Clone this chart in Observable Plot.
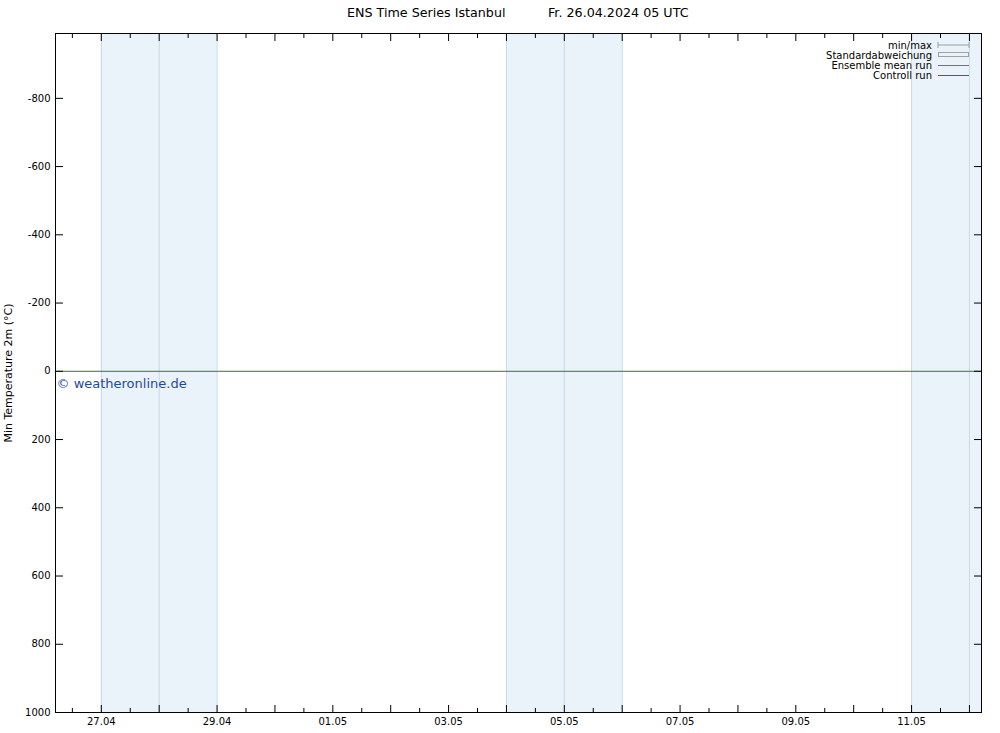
<!DOCTYPE html>
<html>
<head>
<meta charset="utf-8">
<script src="https://cdn.jsdelivr.net/npm/d3@7"></script>
<script src="https://cdn.jsdelivr.net/npm/@observablehq/plot@0.6"></script>
<style>
  html, body { margin: 0; padding: 0; background: #fff; }
  #wrap { position: relative; width: 1000px; height: 733px; font-family: "DejaVu Sans", sans-serif; }
  #title { position: absolute; top: 5px; left: 0; width: 1000px; font-size: 12.7px; color: #000; white-space: pre; }
  #title span { position: absolute; }
  #legend { position: absolute; left: 0; top: 0; }
</style>
</head>
<body>
<div id="wrap">
  <div id="chart"></div>
  <div id="title"><span id="tl" style="left:347px"></span><span id="tr" style="left:548px"></span></div>
</div>
<script>
// ---- data ----
const titleLeft = "ENS Time Series Istanbul";
const titleRight = "Fr. 26.04.2024 05 UTC";
const yLabel = "Min Temperature 2m (°C)";
const xDomain = ["2024-04-26T05:00Z", "2024-05-12T05:00Z"];
const yDomain = [-990, 1000];
const yTicks = [-800, -600, -400, -200, 0, 200, 400, 600, 800, 1000];
const xTickLabels = ["27.04", "29.04", "01.05", "03.05", "05.05", "07.05", "09.05", "11.05"];
const weekendStart = ["2024-04-27", "2024-05-04", "2024-05-11"];
const weekendEnd = ["2024-04-29", "2024-05-06", "2024-05-13"];
const bandDividers = ["2024-04-27", "2024-04-28", "2024-04-29", "2024-05-04", "2024-05-05", "2024-05-06", "2024-05-11", "2024-05-12"];
const controlDates = ["2024-04-26T05:00Z", "2024-05-12T05:00Z"];
const controlValues = [0, 0];
const legendLabels = ["min/max", "Standardabweichung", "Ensemble mean run", "Controll run"];
const watermark = "© weatheronline.de";

document.getElementById("tl").textContent = titleLeft;
document.getElementById("tr").textContent = titleRight;

// ---- build ----
const parse = s => new Date(s.length <= 10 ? s + "T00:00Z" : s);
const labelDate = s => { const [d, m] = s.split(".").map(Number); return new Date(Date.UTC(2024, m - 1, d)); };
const x0 = parse(xDomain[0]), x1 = parse(xDomain[1]);
const bands = weekendStart.map((s, i) => ({ a: parse(s), b: parse(weekendEnd[i]) }));
const dividers = bandDividers.map(parse);
const control = controlDates.map((d, i) => ({ date: parse(d), value: controlValues[i] }));
const dayTicks = d3.utcDay.range(d3.utcDay.ceil(x0), x1);
const halfDayTicks = d3.utcHour.every(12).range(x0, x1).filter(d => d.getUTCHours() === 12);
const labelTicks = xTickLabels.map(labelDate);
const labelMap = new Map(labelTicks.map((d, i) => [+d, xTickLabels[i]]));

const chart = Plot.plot({
  width: 1000,
  height: 733,
  marginLeft: 55,
  marginRight: 19,
  marginTop: 33,
  marginBottom: 21,
  style: { fontFamily: "DejaVu Sans, sans-serif", fontSize: "10px", background: "#fff", color: "#000" },
  x: { type: "utc", domain: [x0, x1] },
  y: { domain: yDomain, reverse: true },
  marks: [
    Plot.rect(bands, { x1: "a", x2: "b", fill: "#eaf2fa", clip: true }),
    Plot.ruleX(dividers, { x: d => d, stroke: "#c6daea", strokeWidth: 1, clip: true }),
    Plot.line(control, { x: "date", y: "value", stroke: "#2f7d12", strokeWidth: 1 }),
    Plot.text([watermark], { x: () => x0, y: () => 0, text: d => d, dx: 1, dy: 13, textAnchor: "start", fill: "#1f48a6", fontSize: 13 }),
    // axes: labels
    Plot.axisX({ anchor: "bottom", ticks: labelTicks, tickSize: 0, tickPadding: 5, tickFormat: d => labelMap.get(+d), label: null }),
    Plot.axisY({ anchor: "left", ticks: yTicks, tickSize: 0, tickPadding: 5, tickFormat: d => String(d), label: null }),
    Plot.axisY({ anchor: "left", ticks: [], tickSize: 0, label: yLabel, labelAnchor: "center", labelOffset: 51, labelArrow: "none", fontSize: 11 }),
    // inward ticks
    Plot.axisX({ anchor: "bottom", ticks: dayTicks, tickSize: -7, tickFormat: () => "", label: null }),
    Plot.axisX({ anchor: "bottom", ticks: halfDayTicks, tickSize: -4, tickFormat: () => "", label: null }),
    Plot.axisX({ anchor: "top", ticks: dayTicks, tickSize: -7, tickFormat: () => "", label: null }),
    Plot.axisX({ anchor: "top", ticks: halfDayTicks, tickSize: -4, tickFormat: () => "", label: null }),
    Plot.axisY({ anchor: "left", ticks: yTicks, tickSize: -8, tickFormat: () => "", label: null }),
    Plot.axisY({ anchor: "right", ticks: yTicks, tickSize: -8, tickFormat: () => "", label: null }),
    Plot.frame({ stroke: "#000" })
  ]
});
document.getElementById("chart").appendChild(chart);

// legend overlay
const lg = d3.select("#wrap").append("svg").attr("id", "legend").attr("width", 1000).attr("height", 100)
  .style("font-family", "DejaVu Sans, sans-serif").style("font-size", "10px");
const rowY = [45, 55, 65, 75];
legendLabels.forEach((t, i) => {
  lg.append("text").attr("x", 932).attr("y", rowY[i]).attr("dy", "0.35em").attr("text-anchor", "end").attr("fill", "#000").text(t);
});
const xa = 938, xb = 969;
lg.append("line").attr("x1", xa).attr("x2", xb).attr("y1", rowY[0]).attr("y2", rowY[0]).attr("stroke", "#a0a0a0");
lg.append("line").attr("x1", xa).attr("x2", xa).attr("y1", rowY[0] - 3).attr("y2", rowY[0] + 3).attr("stroke", "#a0a0a0");
lg.append("line").attr("x1", xb).attr("x2", xb).attr("y1", rowY[0] - 3).attr("y2", rowY[0] + 3).attr("stroke", "#a0a0a0");
lg.append("rect").attr("x", xa + 0.5).attr("y", rowY[1] - 2.5).attr("width", xb - xa - 1).attr("height", 4).attr("fill", "none").attr("stroke", "#a0a0a0");
lg.append("line").attr("x1", xa).attr("x2", xb).attr("y1", rowY[2] + 0.5).attr("y2", rowY[2] + 0.5).attr("stroke", "#e8413c");
lg.append("line").attr("x1", xa).attr("x2", xb).attr("y1", rowY[3] + 0.5).attr("y2", rowY[3] + 0.5).attr("stroke", "#2f7d12");
</script>
</body>
</html>
